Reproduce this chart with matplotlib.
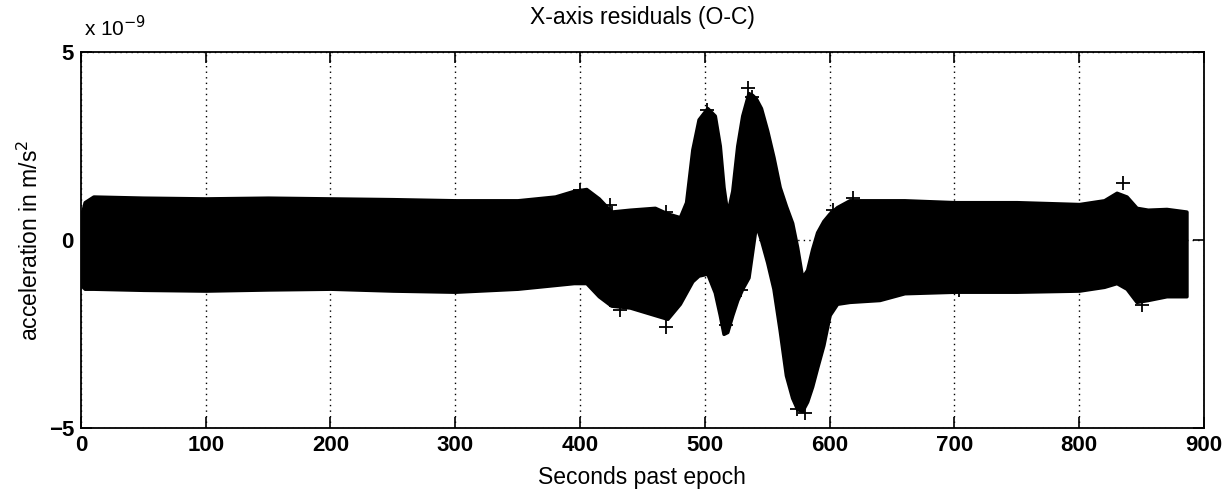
import matplotlib
matplotlib.use("Agg")
import matplotlib.pyplot as plt
import numpy as np

# envelope of the residual band (units of 1e-9 m/s^2)
t_env = [0, 3, 10, 50, 100, 150, 200, 250, 300, 350, 380, 395, 405, 415, 425,
         440, 460, 470, 480, 485, 490, 495, 502, 508, 512, 515, 518, 522, 526,
         530, 535, 538, 541, 545, 550, 555, 560, 565, 570, 574, 578, 582, 586,
         590, 595, 600, 606, 616, 640, 660, 700, 750, 800, 820, 830, 838, 846,
         855, 870, 886]
upper = [0.6, 1.0, 1.15, 1.12, 1.1, 1.12, 1.1, 1.08, 1.05, 1.05, 1.15, 1.3,
         1.35, 1.1, 0.75, 0.8, 0.85, 0.7, 0.6, 1.0, 2.4, 3.2, 3.5, 3.3, 2.5,
         1.4, 0.7, 1.3, 2.5, 3.3, 3.9, 3.85, 3.75, 3.5, 2.9, 2.2, 1.4, 0.9,
         0.45, -0.2, -1.0, -0.8, -0.25, 0.2, 0.5, 0.7, 0.87, 1.05, 1.05, 1.05,
         1.0, 1.0, 0.95, 1.05, 1.25, 1.15, 0.85, 0.8, 0.82, 0.75]
lower = [-1.2, -1.3, -1.3, -1.33, -1.35, -1.32, -1.3, -1.35, -1.38, -1.3,
         -1.2, -1.15, -1.15, -1.5, -1.75, -1.8, -2.0, -2.1, -1.7, -1.4, -1.1,
         -0.95, -0.9, -1.4, -2.0, -2.5, -2.45, -2.0, -1.6, -1.3, -1.0, -0.3,
         0.4, 0.0, -0.6, -1.3, -2.4, -3.6, -4.2, -4.5, -4.55, -4.3, -3.9,
         -3.4, -2.8, -2.0, -1.7, -1.65, -1.6, -1.42, -1.38, -1.38, -1.35,
         -1.25, -1.15, -1.3, -1.65, -1.6, -1.5, -1.5]

# isolated '+' samples sticking out of the band
out_t = [400, 424, 426, 424, 432, 469, 469, 502, 535, 538, 517, 529, 580,
         574, 603, 619, 835, 850, 704, 0]
out_v = [1.32, 0.92, 0.7, -1.6, -1.87, -2.32, 0.73, 3.45, 4.03, 3.8, -2.27,
         -1.34, -4.6, -4.5, 0.79, 1.1, 1.5, -1.74, -1.34, 0.0]

plt.rcParams['font.family'] = ['Liberation Sans', 'DejaVu Sans']

fig = plt.figure(figsize=(12.26, 4.97), dpi=100)
ax = fig.add_axes([0.066, 0.139, 0.916, 0.757])

ax.fill_between(t_env, lower, upper, facecolor='black', edgecolor='black',
                lw=2.5, zorder=3)
ax.plot(out_t, out_v, '+', color='black', ms=10, mew=1.3, zorder=4)

ax.set_xlim(0, 900)
ax.set_ylim(-5, 5)
ax.set_xticks(np.arange(0, 901, 100))
ax.set_yticks([-5, 0, 5])
ax.set_yticklabels(['\u22125', '0', '5'])
ax.grid(True, color='black', linestyle=(0, (1, 3)), linewidth=1.0)
ax.tick_params(direction='in', length=8, width=1.2, top=True, right=True,
               labelsize=16, pad=5)
for lab in ax.get_xticklabels() + ax.get_yticklabels():
    lab.set_fontweight('bold')
for s in ax.spines.values():
    s.set_linewidth(1.3)

ax.set_title('X-axis residuals (O-C)', fontsize=16.5, pad=20)
ax.set_xlabel('Seconds past epoch', fontsize=16.5, labelpad=7)
ax.set_ylabel('acceleration in m/s$^2$', fontsize=16.5, labelpad=4)
ax.text(0.003, 1.03, 'x 10$^{-9}$', transform=ax.transAxes, fontsize=15,
        ha='left', va='bottom')

fig.savefig("out.png", dpi=100)
